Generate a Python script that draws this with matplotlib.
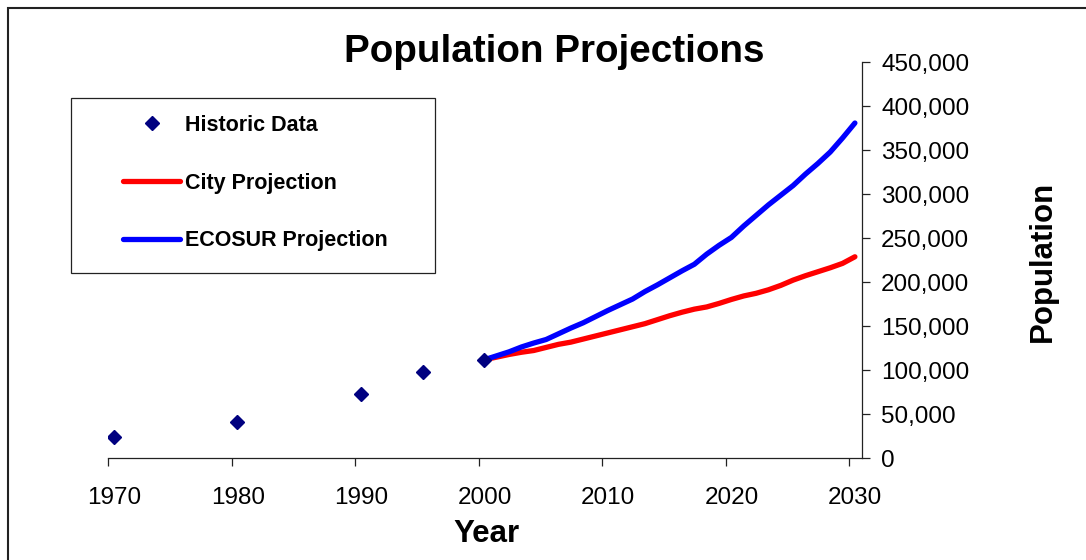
import matplotlib
matplotlib.use("Agg")
import matplotlib.pyplot as plt
import matplotlib.transforms as mtransforms
from matplotlib.patches import Rectangle
from matplotlib.lines import Line2D
from matplotlib.ticker import FuncFormatter, MultipleLocator

plt.rcParams["font.family"] = ["Liberation Sans", "DejaVu Sans"]

# Census / count years and population
historic_years = [1970, 1980, 1990, 1995, 2000]
historic_pop = [24500, 40800, 73000, 98000, 111700]

# Annual projections 2000-2030
proj_years = list(range(2000, 2031))
city_pop = [112000, 115000, 118000, 120500, 122500, 126000, 129500, 132000,
            135500, 139000, 142500, 146000, 149500, 153000, 157500, 162000,
            166000, 169500, 172000, 176000, 180500, 184500, 187500, 191500,
            196500, 202500, 207500, 212000, 216500, 221500, 229000]
ecosur_pop = [112000, 116500, 121000, 126500, 131000, 135000, 141500, 148000,
              154000, 161000, 168000, 174500, 181000, 189500, 197000, 205000,
              213000, 220500, 232000, 242000, 251000, 264000, 276000, 288000,
              299000, 310000, 323000, 335000, 348000, 364000, 381000]

x_ticks = [1970, 1980, 1990, 2000, 2010, 2020, 2030]

MID = 0.45  # values are plotted at mid-year on the date axis

W, H = 1086, 560
fig = plt.figure(figsize=(W / 100, H / 100), dpi=100)
ax = fig.add_axes([108.3 / W, 1 - 458.3 / H, (861.7 - 108.3) / W, (458.3 - 62.3) / H])

ax.plot([y + MID for y in proj_years], city_pop, color="#FF0000", lw=3.8,
        solid_capstyle="round", zorder=2)
ax.plot([y + MID for y in proj_years], ecosur_pop, color="#0000FF", lw=3.8,
        solid_capstyle="round", zorder=3)
ax.plot([y + MID for y in historic_years], historic_pop, linestyle="none",
        marker="D", markersize=7.2, color="#000080", zorder=4)

ax.set_xlim(1970, 2031)
ax.set_ylim(0, 450000)
ax.set_xticks(x_ticks)
ax.set_xticklabels([str(t) for t in x_ticks])
ax.yaxis.set_major_locator(MultipleLocator(50000))
ax.yaxis.set_major_formatter(FuncFormatter(lambda v, p: f"{int(v):,}"))
ax.yaxis.tick_right()

for side in ("top", "left"):
    ax.spines[side].set_visible(False)
for side in ("bottom", "right"):
    ax.spines[side].set_linewidth(0.9)
    ax.spines[side].set_color("#222222")

ax.tick_params(axis="both", direction="out", length=6, width=0.9, color="#222222",
               labelsize=17.5, labelcolor="black")
ax.tick_params(axis="x", pad=15)
ax.tick_params(axis="y", pad=8)
shift = mtransforms.ScaledTranslation(6 / 100, 0, fig.dpi_scale_trans)
for lab in ax.get_xticklabels():
    lab.set_transform(lab.get_transform() + shift)

fig.text(554 / W, 1 - 52 / H, "Population Projections", ha="center", va="center",
         fontsize=27.8, fontweight="bold")
fig.text(486 / W, 1 - 534 / H, "Year", ha="center", va="center",
         fontsize=22.5, fontweight="bold")
fig.text(1043 / W, 1 - 261 / H, "Population", ha="center", va="center",
         rotation=90, fontsize=22.5, fontweight="bold")

# Legend with its own frame
fig.patches.append(Rectangle((71 / W, 1 - 273 / H), (435 - 71) / W, (273 - 98) / H,
                             transform=fig.transFigure, fill=False,
                             edgecolor="#222222", lw=0.9))
handles = [
    Line2D([], [], linestyle="none", marker="D", markersize=7.2, color="#000080"),
    Line2D([], [], color="#FF0000", lw=3.8, solid_capstyle="round"),
    Line2D([], [], color="#0000FF", lw=3.8, solid_capstyle="round"),
]
fig.legend(handles, ["Historic Data", "City Projection", "ECOSUR Projection"],
           loc="center left", bbox_to_anchor=(123 / W, 1 - 183 / H),
           frameon=False, borderpad=0, borderaxespad=0,
           handlelength=2.65, handletextpad=0.25, labelspacing=1.7,
           prop={"size": 15.5, "weight": "bold"})

# Outer chart border
fig.patches.append(Rectangle((7.5 / W, -0.05), 1.1, 1 - 7.5 / H + 0.05,
                             transform=fig.transFigure, fill=False,
                             edgecolor="#222222", lw=1.5))

fig.savefig("out.png", dpi=100)
